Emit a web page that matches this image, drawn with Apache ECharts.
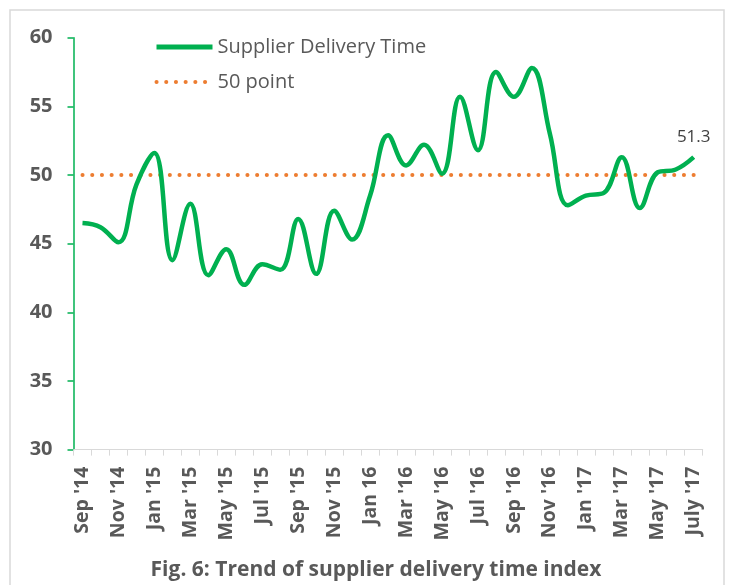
<!DOCTYPE html>
<html>
<head>
<meta charset="utf-8">
<script src="https://cdn.jsdelivr.net/npm/echarts@6/dist/echarts.min.js"></script>
<style>
html,body{margin:0;padding:0;background:#fff;}
#chart{width:731px;height:585px;}
</style>
</head>
<body>
<div id="chart"></div>
<script>
var months = ["Sep '14","Oct '14","Nov '14","Dec '14","Jan '15","Feb '15","Mar '15","Apr '15","May '15","Jun '15",
    "Jul '15","Aug '15","Sep '15","Oct '15","Nov '15","Dec '15","Jan 16","Feb '16","Mar '16","Apr '16",
    "May '16","Jun '16","Jul '16","Aug '16","Sep '16","Oct '16","Nov '16","Dec '16","Jan '17","Feb '17",
    "Mar '17","Apr '17","May '17","Jun '17","July '17"];
var deliveryTime = [46.5,46.2,45.1,49.3,51.6,43.8,47.9,42.7,44.6,42.0,
    43.5,43.1,46.8,42.8,47.4,45.3,48.5,52.9,50.7,52.2,
    50.1,55.7,51.8,57.5,55.7,57.8,53.0,47.8,48.5,48.7,
    51.3,47.6,50.2,50.4,51.3];
var threshold = 50;
var yTicks = {min: 30, max: 60, step: 5};

var chart = echarts.init(document.getElementById('chart'));

// only the last point carries a label
var lineData = deliveryTime.map(function (v, i) {
    if (i === deliveryTime.length - 1) {
        return {value: v, label: {show: true}};
    }
    return v;
});
var refData = months.map(function () { return threshold; });

var grey = '#595959';
var font = 'Open Sans';

var option = {
    backgroundColor: '#fff',
    animation: false,
    graphic: [{
        type: 'rect',
        shape: {x: 10, y: 10, width: 714, height: 600},
        style: {fill: 'none', stroke: '#d9d9d9', lineWidth: 1.5}
    }, {
        type: 'text',
        x: 376,
        y: 570,
        style: {
            text: 'Fig. 6: Trend of supplier delivery time index',
            fill: grey,
            font: 'bold 21px "Open Sans"',
            align: 'center',
            verticalAlign: 'middle'
        }
    }],
    legend: {
        orient: 'vertical',
        left: 154,
        top: 37,
        padding: 0,
        itemWidth: 56,
        itemHeight: 14,
        itemGap: 15,
        itemStyle: {opacity: 0},
        textStyle: {color: grey, fontSize: 20, fontFamily: font},
        data: [
            {name: 'Supplier Delivery Time', lineStyle: {width: 5}},
            {name: '50 point', lineStyle: {width: 4}}
        ]
    },
    grid: {left: 73.5, right: 28.3, top: 37.7, bottom: 135.4},
    xAxis: {
        type: 'category',
        data: months,
        boundaryGap: true,
        axisLine: {lineStyle: {color: '#d9d9d9', width: 1}},
        axisTick: {show: true, interval: 0, length: 6, lineStyle: {color: '#d9d9d9'}},
        axisLabel: {
            interval: 1,
            rotate: 90,
            margin: 17,
            color: grey,
            fontSize: 19.5,
            fontWeight: 'bold',
            fontFamily: font
        },
        splitLine: {show: false}
    },
    yAxis: {
        type: 'value',
        min: yTicks.min,
        max: yTicks.max,
        interval: yTicks.step,
        axisLine: {show: true, lineStyle: {color: '#00B050', width: 1.5}},
        axisTick: {show: true, length: 6, lineStyle: {color: '#00B050', width: 1.5}},
        axisLabel: {
            color: grey,
            fontSize: 20,
            fontWeight: 'bold',
            fontFamily: font,
            margin: 21
        },
        splitLine: {show: false}
    },
    series: [{
        name: 'Supplier Delivery Time',
        type: 'line',
        data: lineData,
        smooth: 0.4,
        symbol: 'circle',
        symbolSize: 0,
        showSymbol: true,
        lineStyle: {color: '#00B050', width: 4.5},
        itemStyle: {color: '#00B050'},
        label: {
            show: false,
            position: 'top',
            distance: 11,
            color: '#404040',
            fontSize: 17,
            fontFamily: font
        },
        z: 3
    }, {
        name: '50 point',
        type: 'line',
        data: refData,
        symbol: 'none',
        lineStyle: {color: '#ED7D31', width: 4, type: [0.1, 9.6], cap: 'round'},
        itemStyle: {color: '#ED7D31'},
        z: 2
    }]
};

chart.setOption(option);
</script>
</body>
</html>
